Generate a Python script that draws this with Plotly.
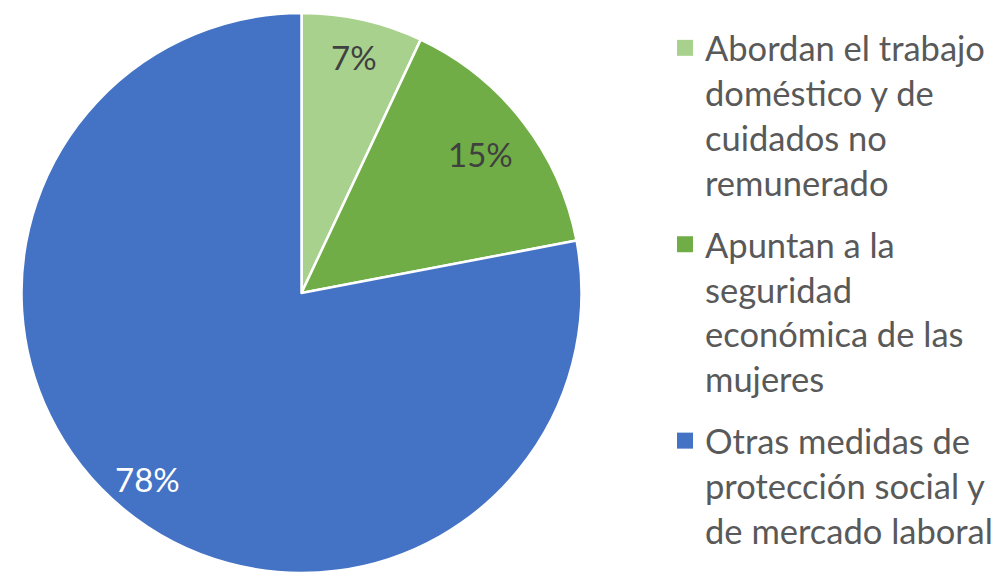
import math
import plotly.graph_objects as go

labels = [
    "Abordan el trabajo<br>doméstico y de<br>cuidados no<br>remunerado",
    "Apuntan a la<br>seguridad<br>económica de las<br>mujeres",
    "Otras medidas de<br>protección social y<br>de mercado laboral",
]
values = [7, 15, 78]
colors = ["#A9D18E", "#70AD47", "#4472C4"]
text_colors = ["#404040", "#404040", "#FFFFFF"]
label_radius = [0.862, 0.81, 0.862]  # fraction of pie radius for data labels

W, H = 1005, 573
dom_x = [0.0, 0.6]
dom_y = [0.0, 0.9773]

fig = go.Figure()
fig.add_trace(
    go.Pie(
        labels=labels,
        values=values,
        sort=False,
        direction="clockwise",
        rotation=0,
        marker=dict(colors=colors, line=dict(color="white", width=2.5)),
        textinfo="none",
        domain=dict(x=dom_x, y=dom_y),
        hoverinfo="skip",
        showlegend=False,
    )
)

# legend entries (one per category)
for i, (lab, col) in enumerate(zip(labels, colors)):
    fig.add_trace(
        go.Scatter(
            x=[None], y=[None], mode="markers", name=lab,
            marker=dict(symbol="square", size=16, color=col),
            legendgroup=f"g{i}", showlegend=True, hoverinfo="skip",
        )
    )

# data labels placed along each slice's bisector
cx = W * (dom_x[0] + dom_x[1]) / 2
cy = H * (1 - (dom_y[0] + dom_y[1]) / 2)
R = min(W * (dom_x[1] - dom_x[0]), H * (dom_y[1] - dom_y[0])) / 2
total = sum(values)
cum = 0
for v, tc, lr in zip(values, text_colors, label_radius):
    mid = (cum + v / 2) / total * 2 * math.pi
    cum += v
    px = cx + lr * R * math.sin(mid)
    py = cy - lr * R * math.cos(mid)
    fig.add_annotation(
        x=px / W, y=1 - py / H, xref="paper", yref="paper",
        text=f"{round(v / total * 100)}%", showarrow=False,
        xanchor="center", yanchor="middle",
        font=dict(family="Lato", size=33, color=tc),
    )

fig.update_layout(
    width=W,
    height=H,
    margin=dict(l=0, r=0, t=0, b=0),
    paper_bgcolor="white",
    plot_bgcolor="white",
    showlegend=True,
    xaxis=dict(visible=False),
    yaxis=dict(visible=False),
    legend=dict(
        x=0.6617,
        y=0.967,
        xanchor="left",
        yanchor="top",
        valign="top",
        font=dict(family="Lato", size=34.5, color="#595959"),
        tracegroupgap=14,
        itemwidth=30,
        bgcolor="rgba(0,0,0,0)",
    ),
)

fig.write_html(
    "out.html",
    config={"displayModeBar": False},
    post_script="document.body.style.margin='0px';",
)
